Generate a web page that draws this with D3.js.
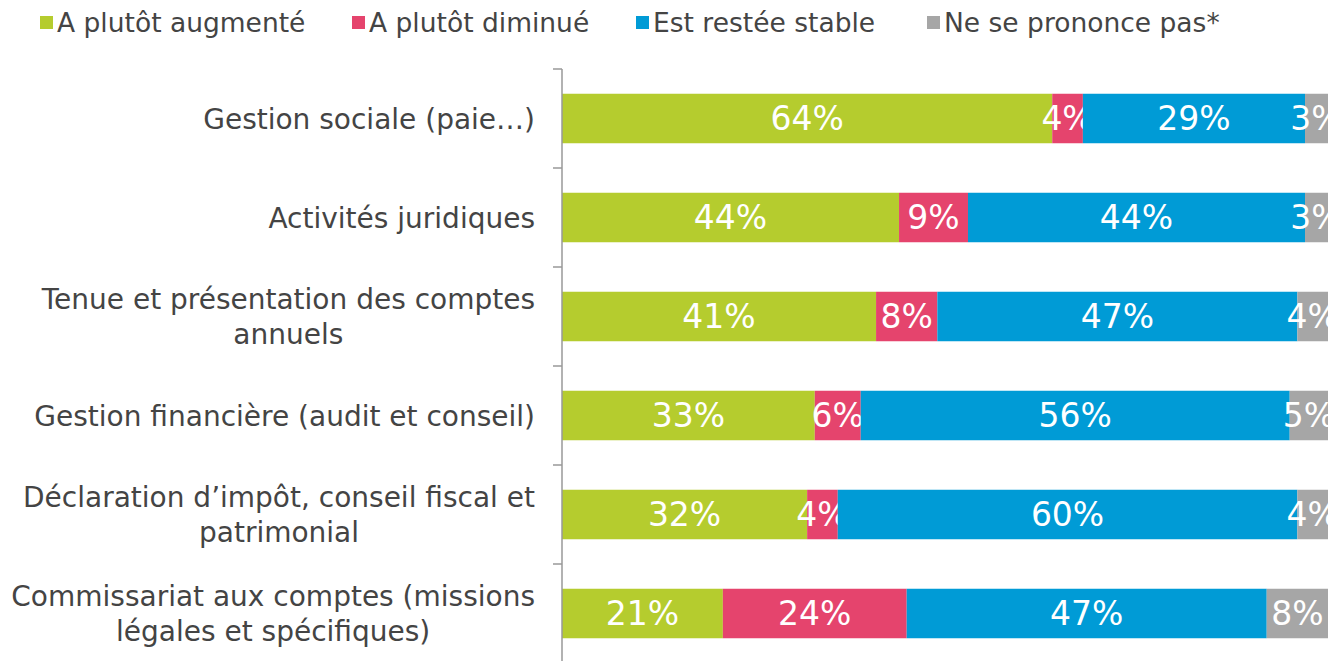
<!DOCTYPE html>
<html>
<head>
<meta charset="utf-8">
<script src="https://cdn.jsdelivr.net/npm/d3@7"></script>
<style>
html,body{margin:0;padding:0;background:#fff;}
svg{display:block;font-family:"DejaVu Sans",Verdana,sans-serif;}
</style>
</head>
<body>
<svg id="chart" width="1332" height="661"></svg>
<script>
const categories = [
  "Gestion sociale (paie…)",
  "Activités juridiques",
  "Tenue et présentation des comptes\nannuels",
  "Gestion financière (audit et conseil)",
  "Déclaration d’impôt, conseil fiscal et\npatrimonial",
  "Commissariat aux comptes (missions\nlégales et spécifiques)"
];
const seriesNames = ["A plutôt augmenté", "A plutôt diminué", "Est restée stable", "Ne se prononce pas*"];
const augmente = [64, 44, 41, 33, 32, 21];
const diminue  = [4, 9, 8, 6, 4, 24];
const stable   = [29, 44, 47, 56, 60, 47];
const nspp     = [3, 3, 4, 5, 4, 8];
const colors = ["#b5cc2e", "#e5446d", "#009bd6", "#a6a6a6"];

(function () {
const svg = d3.select("#chart");
const pLeft = 562, pRight = 1328, pTop = 69, pBottom = 663;

const table = categories.map((c, i) => ({cat: c, s0: augmente[i], s1: diminue[i], s2: stable[i], s3: nspp[i]}));
const keys = ["s0", "s1", "s2", "s3"];
const stacked = d3.stack().keys(keys)(table);

const x = d3.scaleLinear().domain([0, 100]).range([pLeft, pRight]);
const y = d3.scaleBand().domain(categories).range([pTop, pBottom]).paddingInner(0.5).paddingOuter(0.25);
const color = d3.scaleOrdinal().domain(keys).range(colors);

svg.append("defs").append("clipPath").attr("id", "plotclip")
  .append("rect").attr("x", pLeft).attr("y", 0).attr("width", pRight - pLeft).attr("height", 661);

const plot = svg.append("g").attr("clip-path", "url(#plotclip)");

const layers = plot.selectAll("g.layer").data(stacked).join("g")
  .attr("class", "layer").attr("fill", d => color(d.key));

layers.selectAll("rect").data(d => d).join("rect")
  .attr("x", d => x(d[0]))
  .attr("y", d => y(d.data.cat))
  .attr("width", d => x(d[1]) - x(d[0]))
  .attr("height", y.bandwidth());

layers.selectAll("text").data(d => d).join("text")
  .attr("x", d => (x(d[0]) + x(d[1])) / 2)
  .attr("y", d => y(d.data.cat) + y.bandwidth() / 2)
  .attr("dy", "0.36em")
  .attr("text-anchor", "middle")
  .attr("fill", "#fff")
  .attr("font-size", 33)
  .text(d => (d[1] - d[0]) + "%");

// Axis
const axis = d3.axisLeft(y).tickSize(0).tickFormat("");
const axisG = svg.append("g").attr("transform", `translate(${pLeft},0)`).call(axis);
axisG.select(".domain").attr("stroke", "#999").attr("stroke-width", 1.5)
  .attr("d", `M0,${pTop}V${pBottom}`);
const tickYs = d3.range(categories.length + 1).map(i => pTop + i * y.step());
axisG.selectAll("line.bt").data(tickYs).join("line").attr("class", "bt")
  .attr("x1", -9).attr("x2", 0).attr("y1", d => d).attr("y2", d => d)
  .attr("stroke", "#999").attr("stroke-width", 1.5);

// Category labels
const labelRight = 535;
const lg = svg.append("g").attr("fill", "#444").attr("font-size", 28);
categories.forEach(c => {
  const lines = c.split("\n");
  const cy = y(c) + y.bandwidth() / 2;
  const lh = 35;
  const t = lg.append("text").attr("text-anchor", "middle");
  const tspans = lines.map((ln, k) => t.append("tspan")
    .attr("y", cy + (k - (lines.length - 1) / 2) * lh)
    .attr("dy", "0.36em").text(ln));
  const w = d3.max(tspans, s => s.node().getComputedTextLength());
  tspans.forEach(s => s.attr("x", labelRight - w / 2));
});

// Legend
const legendX = [40, 352, 636, 927];
const leg = svg.append("g").attr("font-size", 26.5).attr("fill", "#444");
seriesNames.forEach((n, i) => {
  leg.append("rect").attr("x", legendX[i]).attr("y", 16).attr("width", 13).attr("height", 13).attr("fill", colors[i]);
  leg.append("text").attr("x", legendX[i] + 17).attr("y", 32).text(n);
});
})();
</script>
</body>
</html>
